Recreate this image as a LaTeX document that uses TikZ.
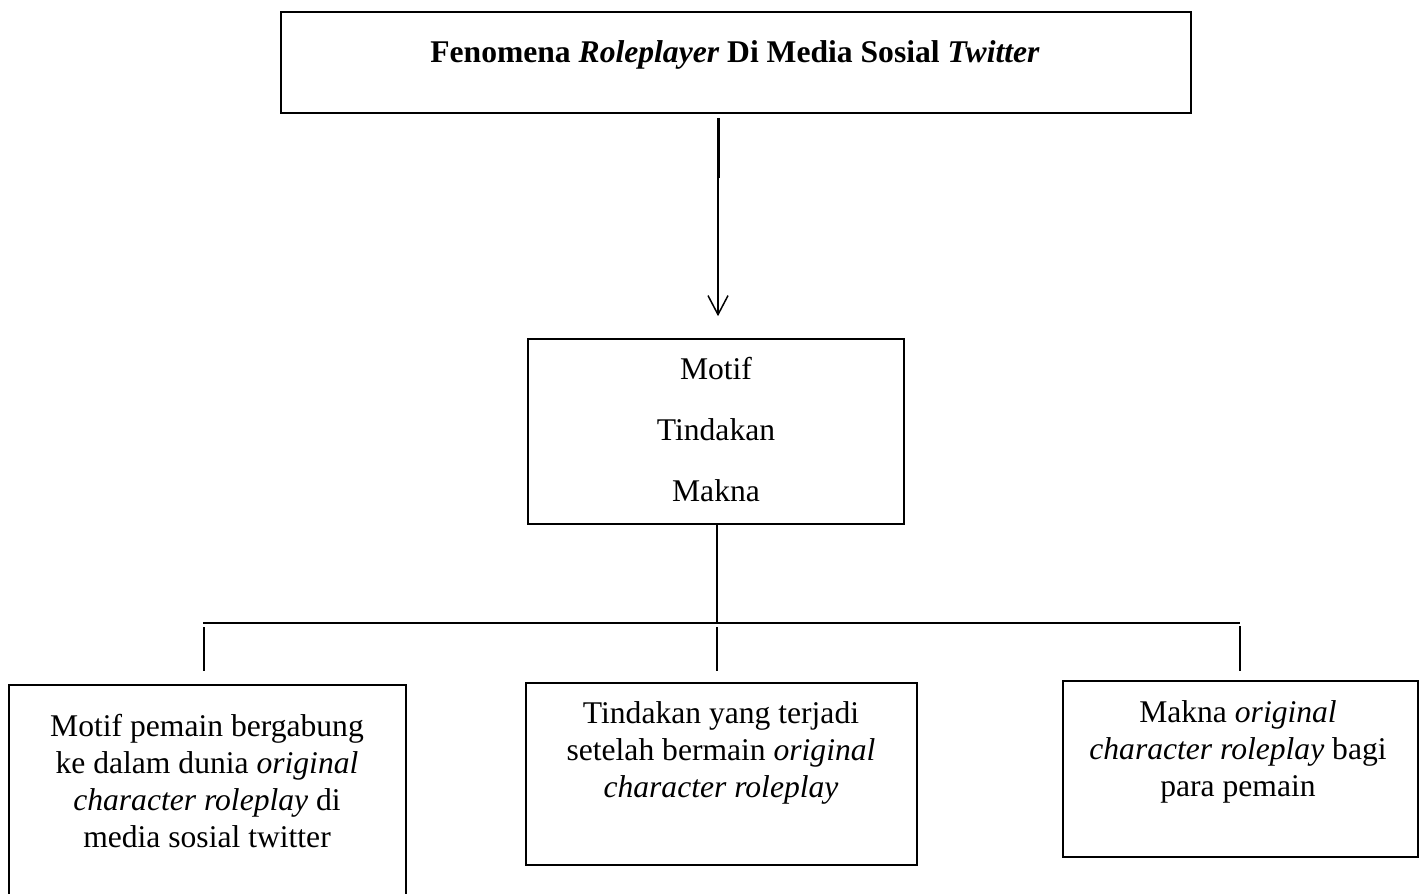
\documentclass[tikz,border=0pt]{standalone}
\usepackage{fontspec}
\setmainfont{Liberation Serif}
\usetikzlibrary{arrows.meta,fit}
\begin{document}
\begin{tikzpicture}[x=0.5pt,y=-0.5pt,
  box/.style={draw, line width=0.8pt, inner sep=0pt},
  txt/.style={inner sep=0pt, align=center, font=\fontsize{15.8}{18.5}\selectfont},
  link/.style={line width=0.75pt}]
\useasboundingbox (0,0) rectangle (1424,894);
% boxes
\node[box, fit={(281,12) (1191,113)}] (top) {};
\node[txt, anchor=north, font=\bfseries\fontsize{15.8}{18.5}\selectfont] (toptxt) at (735,40.5) {Fenomena \textit{Roleplayer} Di Media Sosial \textit{Twitter}};
\node[box, fit={(528,339) (904,524)}] (mid) {};
\node[txt, anchor=north, font=\fontsize{15.8}{30.5}\selectfont] (midtxt) at (716,356.5) {Motif\\Tindakan\\Makna};
\node[box, fit={(9,685) (406,920)}] (b1) {};
\node[txt, anchor=north] (b1txt) at (207,713.5) {Motif pemain bergabung\\ke dalam dunia \textit{original}\\\textit{character roleplay} di\\media sosial twitter};
\node[box, fit={(526,683) (917,865)}] (b2) {};
\node[txt, anchor=north] (b2txt) at (721,701.5) {Tindakan yang terjadi\\setelah bermain \textit{original}\\\textit{character roleplay}};
\node[box, fit={(1063,681) (1418,857)}] (b3) {};
\node[txt, anchor=north] (b3txt) at (1238,700.5) {Makna \textit{original}\\\textit{character roleplay} bagi\\para pemain};
% connectors
\coordinate (ax) at (718,0);
\draw[link, shorten <=2pt, shorten >=11pt, -{Straight Barb[length=9.5pt,width=10pt]}] (top.south -| ax) -- (mid.north -| ax);
\draw[line width=1.5pt, shorten <=2pt] (top.south -| ax) -- ++(0,64);
\coordinate (j) at (717,622);
\draw[link] (mid.south -| j) -- (j);
\coordinate (hl) at (203,623);
\coordinate (hr) at (1240,623);
\draw[link] (hl) -- (hr);
\coordinate (k1) at (204,627);
\coordinate (k2) at (717,627);
\coordinate (k3) at (1240,626);
\draw[link, shorten >=6.5pt] (k1) -- (k1 |- b1.north);
\draw[link, shorten >=5.5pt] (k2) -- (k2 |- b2.north);
\draw[link, shorten >=4.5pt] (k3) -- (k3 |- b3.north);
\end{tikzpicture}
\end{document}
